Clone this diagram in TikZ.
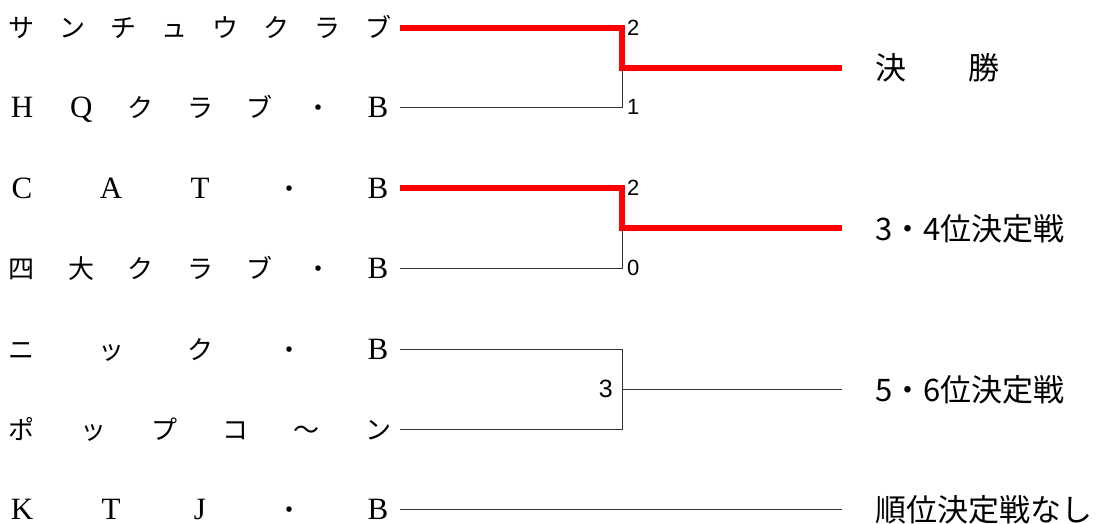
\documentclass[tikz,border=0pt]{standalone}
\usepackage{fontspec}
\setmainfont{Liberation Serif}
\newfontfamily\jp{Noto Sans CJK JP}
\newfontfamily\num{Liberation Sans}
\newcommand\rc{\rmfamily\fontsize{31}{31}\selectfont}

\begin{document}
\begin{tikzpicture}[x=1pt,y=-1pt,
    team/.style={anchor=base,inner sep=0pt,font=\jp\fontsize{26}{26}\selectfont},
    result/.style={anchor=base west,inner sep=0pt,font=\jp\fontsize{31}{31}\selectfont},
    score/.style={inner sep=0pt,font=\num\fontsize{22}{22}\selectfont},
    thin/.style={line width=1pt,black!80},
    win/.style={line width=6pt,red}]
  \useasboundingbox (0,0) rectangle (1098,524);

  % team names
  \foreach \c [count=\i] in {サ,ン,チ,ュ,ウ,ク,ラ,ブ}
    \node[team] (t1-\i) at ({22+(\i-1)*356/7},38) {\c};
  \foreach \c [count=\i] in {\rc H,\rc Q,ク,ラ,ブ,・,\rc B}
    \node[team] (t2-\i) at ({22+(\i-1)*356/6},118) {\c};
  \foreach \c [count=\i] in {\rc C,\rc A,\rc T,・,\rc B}
    \node[team] (t3-\i) at ({22+(\i-1)*356/4},198) {\c};
  \foreach \c [count=\i] in {四,大,ク,ラ,ブ,・,\rc B}
    \node[team] (t4-\i) at ({22+(\i-1)*356/6},278) {\c};
  \foreach \c [count=\i] in {ニ,ッ,ク,・,\rc B}
    \node[team] (t5-\i) at ({22+(\i-1)*356/4},359) {\c};
  \foreach \c [count=\i] in {ポ,ッ,プ,コ,〜,ン}
    \node[team] (t6-\i) at ({22+(\i-1)*356/5},439) {\c};
  \foreach \c [count=\i] in {\rc K,\rc T,\rc J,・,\rc B}
    \node[team] (t7-\i) at ({22+(\i-1)*356/4},519) {\c};

  \coordinate (a1) at (400,28);
  \coordinate (a2) at (400,108);
  \coordinate (a3) at (400,188);
  \coordinate (a4) at (400,268);
  \coordinate (a5) at (400,349);
  \coordinate (a6) at (400,429);
  \coordinate (a7) at (400,509);
  \coordinate (w1) at (622,68);
  \coordinate (w2) at (622,228);
  \coordinate (w3) at (622,389);
  \coordinate (e1) at (842,68);
  \coordinate (e2) at (842,228);
  \coordinate (e3) at (842,389);
  \coordinate (e4) at (842,509);

  % brackets
  \draw[thin] (a2) -- (w1 |- a2) -- (w1);
  \draw[win] (a1) -- (w1 |- a1) -- (w1) -- (e1);
  \draw[thin] (a4) -- (w2 |- a4) -- (w2);
  \draw[win] (a3) -- (w2 |- a3) -- (w2) -- (e2);
  \draw[thin] (a5) -- (w3 |- a5) -- (w3 |- a6) -- (a6);
  \draw[thin] (w3) -- (e3);
  \draw[thin] (a7) -- (e4);

  % scores
  \node[score,anchor=west] (s1) at (627,28) {2};
  \node[score,anchor=west] (s2) at (627,107) {1};
  \node[score,anchor=west] (s3) at (627,188) {2};
  \node[score,anchor=west] (s4) at (627,268) {0};
  \node[score,anchor=east,font=\num\fontsize{25}{25}\selectfont] (s5) at (613,389) {3};

  % results
  \node[result] (r1) at (875,80) {決　　勝};
  \node[result] (r2) at (875,240) {3・4位決定戦};
  \node[result] (r3) at (875,401) {5・6位決定戦};
  \node[result] (r4) at (875,521) {順位決定戦なし};
\end{tikzpicture}
\end{document}
